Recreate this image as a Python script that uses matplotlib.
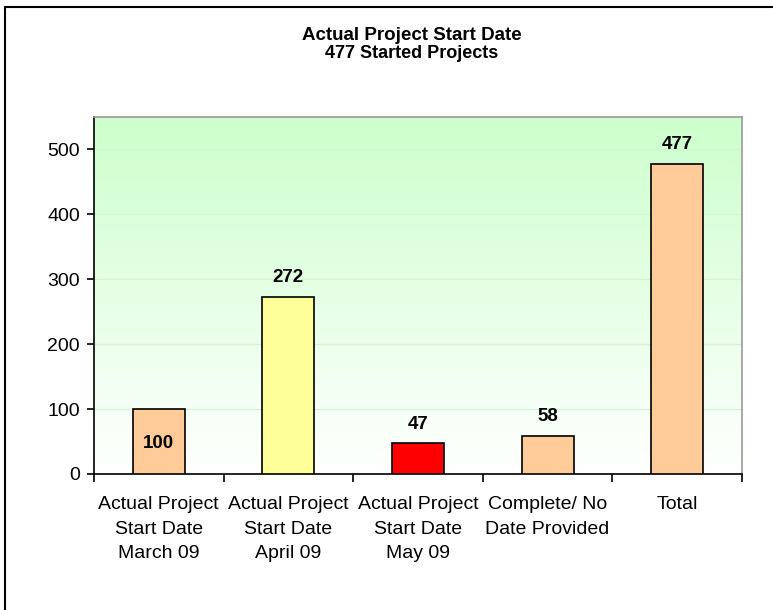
import matplotlib.pyplot as plt
from matplotlib.patches import Rectangle
import numpy as np

plt.rcParams['font.family'] = ['Liberation Sans', 'DejaVu Sans']

# data
categories = ["Actual Project\nStart Date\nMarch 09",
              "Actual Project\nStart Date\nApril 09",
              "Actual Project\nStart Date\nMay 09",
              "Complete/ No\nDate Provided",
              "Total"]
values = [100, 272, 47, 58, 477]
bar_colors = ["#FFCC99", "#FFFF99", "#FF0000", "#FFCC99", "#FFCC99"]
title_main = "Actual Project Start Date"
title_sub = "477 Started Projects"

W, H = 773, 610
fig = plt.figure(figsize=(W / 100, H / 100), dpi=100)
ax = fig.add_axes([94 / W, 1 - 474 / H, (742 - 94) / W, (474 - 117) / H])

# outer chart border (cut off at right and bottom)
fig.patches.append(Rectangle((4.5 / W, -0.05), 1.1, 1 - 6.5 / H + 0.05,
                             transform=fig.transFigure, fill=False,
                             edgecolor="black", linewidth=1.5, zorder=0))

# green gradient background
grad = np.linspace(0, 1, 256).reshape(-1, 1)
top = np.array([204, 255, 204]) / 255
bot = np.array([255, 255, 255]) / 255
img = top * grad[..., None] + bot * (1 - grad[..., None])
ax.imshow(img, extent=[0, 1, 0, 1], transform=ax.transAxes, aspect="auto",
          origin="lower", zorder=0)

x = np.arange(len(values))
ax.bar(x, values, width=0.4, color=bar_colors, edgecolor="black",
       linewidth=1.2, zorder=3)

for i, v in enumerate(values):
    if v == 100:
        ax.text(i, v / 2 - 3, str(v), ha="center", va="center",
                fontsize=13.5, fontweight="bold", zorder=4)
    else:
        ax.text(i, v + 30, str(v), ha="center", va="center",
                fontsize=13.5, fontweight="bold", zorder=4)

ax.set_xlim(-0.5, len(values) - 0.5)
ax.set_ylim(0, 550)
ax.set_yticks([0, 100, 200, 300, 400, 500])
ax.yaxis.grid(True, color="#D4F5D4", linewidth=1, zorder=1)
ax.set_axisbelow(True)

ax.set_xticks(x)
ax.set_xticklabels(categories, fontsize=14, linespacing=1.57)
ax.set_xticks(np.arange(-0.5, len(values)), minor=True)
ax.tick_params(axis="x", which="major", length=0, pad=16)
ax.tick_params(axis="x", which="minor", length=6, width=1.2, direction="out")
ax.tick_params(axis="y", length=5, width=1.2, labelsize=14, pad=5)

for s in ["top", "right"]:
    ax.spines[s].set_color("#999999")
    ax.spines[s].set_linewidth(1.2)
for s in ["left", "bottom"]:
    ax.spines[s].set_color("black")
    ax.spines[s].set_linewidth(1.2)

fig.text(412 / W, 1 - 35 / H, title_main, ha="center", va="center",
         fontsize=13.5, fontweight="bold")
fig.text(412 / W, 1 - 54 / H, title_sub, ha="center", va="center",
         fontsize=13, fontweight="bold")

plt.savefig("out.png", dpi=100)
